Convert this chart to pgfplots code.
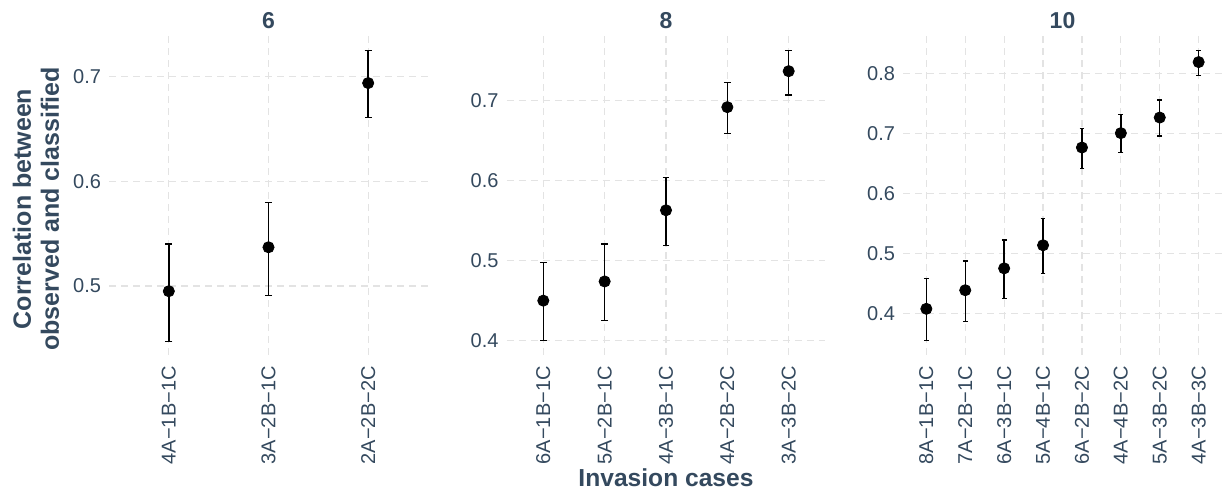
\documentclass[border=0pt]{standalone}
\usepackage{pgfplots}
\pgfplotsset{compat=1.18}
\usepackage{pgfplotstable}
\usepackage{fontspec}
\setmainfont{Liberation Sans}
\definecolor{slate}{HTML}{34495E}
\definecolor{gridc}{HTML}{E3E3E3}

\pgfplotstableread{
x y lo hi
0 0.495 0.447 0.540
1 0.537 0.491 0.580
2 0.694 0.661 0.725
}\tabA
\pgfplotstableread{
x y lo hi
0 0.450 0.400 0.498
1 0.474 0.425 0.521
2 0.563 0.519 0.604
3 0.692 0.659 0.723
4 0.737 0.707 0.763
}\tabB
\pgfplotstableread{
x y lo hi
0 0.408 0.355 0.459
1 0.439 0.387 0.488
2 0.4755 0.4255 0.523
3 0.514 0.467 0.559
4 0.677 0.642 0.709
5 0.701 0.669 0.732
6 0.727 0.696 0.756
7 0.8195 0.797 0.839
}\tabC

\pgfplotsset{
 every axis title shift=0pt,
 panel/.style={
  scale only axis, width=159.5pt, height=159.5pt,
  anchor=north west,
  axis line style={draw=none}, tick style={draw=none},
  grid=major,
  major grid style={gridc, dash pattern=on 3.5pt off 2.5pt, line width=0.6pt},
  x tick label style={rotate=90, anchor=east, inner xsep=5.5pt, font=\fontsize{10}{12}\selectfont, text=slate},
  y tick label style={anchor=east, inner xsep=3.8pt, font=\fontsize{10}{12}\selectfont, text=slate},
  yticklabel style={/pgf/number format/.cd, fixed, fixed zerofill, precision=1, assume math mode=true},
  title style={at={(0.5,1)}, anchor=base, yshift=3.8pt, font=\bfseries\fontsize{11.5}{13}\selectfont, text=slate},
  ytick={0.3,0.4,0.5,0.6,0.7,0.8,0.9},
 },
 pts/.style={black, only marks, mark=*, mark size=2.8pt,
  error bars/.cd, y dir=both, y explicit,
  error bar style={line width=0.7pt, black},
  error mark options={black, line width=0.7pt, mark size=#1, rotate=90}},
}

\begin{document}
\begin{tikzpicture}
\useasboundingbox (0,0) rectangle (613pt,-245.5pt);

\begin{axis}[panel, at={(54.5pt,-18pt)},
  title={6},
  xmin=-0.6, xmax=2.6, ymin=0.434, ymax=0.739,
  xtick={0,1,2},
  xticklabels={4A−1B−1C,3A−2B−1C,2A−2B−2C},
  ylabel={Correlation between\\observed and classified},
  ylabel style={at={(axis description cs:-0.229,0.458)}, anchor=center, align=center,
    font=\bfseries\fontsize{12.5}{14}\selectfont, text=slate},
]
\addplot[pts=1.8pt] table[x=x, y=y, y error plus expr=\thisrow{hi}-\thisrow{y}, y error minus expr=\thisrow{y}-\thisrow{lo}] {\tabA};
\end{axis}

\begin{axis}[panel, at={(253.25pt,-18pt)},
  title={8},
  xmin=-0.6, xmax=4.6, ymin=0.382, ymax=0.781,
  xtick={0,1,2,3,4},
  xticklabels={6A−1B−1C,5A−2B−1C,4A−3B−1C,4A−2B−2C,3A−3B−2C},
  xlabel={Invasion cases},
  xlabel style={at={(axis description cs:0.5,-0.4107)}, anchor=base,
    font=\bfseries\fontsize{12.3}{14}\selectfont, text=slate},
]
\addplot[pts=1.7pt] table[x=x, y=y, y error plus expr=\thisrow{hi}-\thisrow{y}, y error minus expr=\thisrow{y}-\thisrow{lo}] {\tabB};
\end{axis}

\begin{axis}[panel, at={(451.5pt,-18pt)},
  title={10},
  xmin=-0.6, xmax=7.6, ymin=0.331, ymax=0.863,
  xtick={0,1,2,3,4,5,6,7},
  xticklabels={8A−1B−1C,7A−2B−1C,6A−3B−1C,5A−4B−1C,6A−2B−2C,4A−4B−2C,5A−3B−2C,4A−3B−3C},
]
\addplot[pts=1.2pt] table[x=x, y=y, y error plus expr=\thisrow{hi}-\thisrow{y}, y error minus expr=\thisrow{y}-\thisrow{lo}] {\tabC};
\end{axis}
\end{tikzpicture}
\end{document}
